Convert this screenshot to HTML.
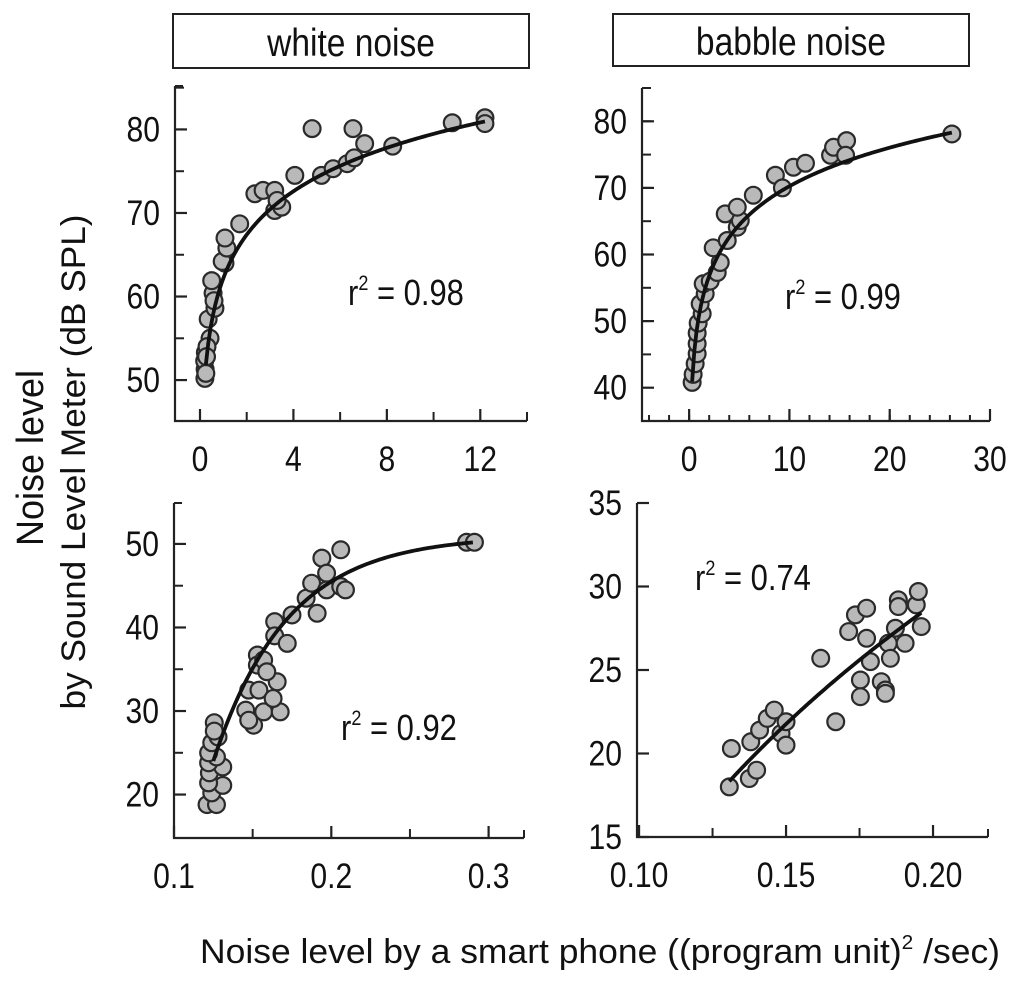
<!DOCTYPE html>
<html><head><meta charset="utf-8">
<style>
html,body{margin:0;padding:0;background:#fff;}
svg{display:block;font-family:"Liberation Sans",Arial,sans-serif;}
</style></head>
<body>
<svg id="chart" width="1024" height="983" viewBox="0 0 1024 983" xmlns="http://www.w3.org/2000/svg">
<rect x="0" y="0" width="1024" height="983" fill="#fff"/>
<g>
<rect x="173" y="14" width="356" height="54" fill="#fff" stroke="#222" stroke-width="2"/>
<text transform="translate(351,56) scale(0.86,1)" font-size="39" text-anchor="middle" fill="#111">white noise</text>
</g>
<g>
<rect x="613" y="14" width="356" height="52" fill="#fff" stroke="#222" stroke-width="2"/>
<text transform="translate(791,55) scale(0.86,1)" font-size="39" text-anchor="middle" fill="#111">babble noise</text>
</g>
<g fill="#111" font-size="34">
<text transform="translate(43,458) rotate(-90)" text-anchor="middle" font-size="38" textLength="176" lengthAdjust="spacingAndGlyphs">Noise level</text>
<text transform="translate(85,462) rotate(-90)" text-anchor="middle" textLength="495" lengthAdjust="spacingAndGlyphs">by Sound Level Meter (dB SPL)</text>
</g>
<text x="200" y="963" font-size="34" fill="#111" textLength="800" lengthAdjust="spacingAndGlyphs">Noise level by a smart phone ((program unit)<tspan dy="-14" font-size="20">2</tspan><tspan dy="14"> /sec)</tspan></text>
</svg>
<script>
// ---- data: white noise, high range ----
const wnHighX = [0.21,0.22,0.2,0.23,0.43,0.35,0.64,0.56,0.5,1.07,0.95,1.15,1.07,1.7,2.35,2.7,3.2,3.2,3.5,3.3,4.06,4.8,5.2,5.7,6.3,6.6,6.55,7.05,8.25,10.8,12.2,12.2,0.3,0.6,0.25,0.28];
const wnHighY = [50.2,51.3,52.3,53.3,55,57.3,58.6,60.4,61.9,64,64.2,65.8,67,68.7,72.3,72.7,72.7,70.3,70.7,71.5,74.5,80.1,74.5,75.3,75.9,76.6,80.1,78.3,78,80.8,81.4,80.7,54,59.5,50.8,52.8];
const wnHighFit = [62.2, 7.5];
const wnHighXTicks = [0,4,8,12];
const wnHighYTicks = [50,60,70,80];
// ---- data: babble noise, high range ----
const bnHighX = [0.3,0.4,0.6,0.8,0.8,0.8,0.9,1.3,1.1,1.6,1.4,2.1,2.8,3.1,2.4,3.8,4.8,5.1,3.6,4.8,6.4,8.6,9.3,10.4,11.6,14.1,14.4,15.7,15.6,26.2];
const bnHighY = [40.8,42,43.6,45.1,46.6,48.2,49.7,51.1,52.6,54.1,55.6,56,57.3,58.8,61,62.1,64.1,65.1,66.1,67.1,68.9,71.9,70,73.1,73.7,74.9,76.1,77.1,74.9,78.1];
const bnHighFit = [51.0, 8.36];
const bnHighXTicks = [0,10,20,30];
const bnHighYTicks = [40,50,60,70,80];
// ---- data: white noise, low range ----
const wnLowX = [0.121,0.127,0.124,0.131,0.122,0.1225,0.131,0.122,0.127,0.122,0.124,0.128,0.1256,0.1256,0.1456,0.1506,0.1475,0.1475,0.154,0.157,0.1675,0.163,0.153,0.153,0.157,0.1656,0.159,0.164,0.164,0.172,0.175,0.184,0.1875,0.194,0.197,0.191,0.197,0.206,0.206,0.209,0.286,0.291];
const wnLowY = [18.8,18.8,20.2,21.1,21.4,22.6,23.3,23.8,24.5,25,26.2,26.9,28.6,27.6,30.1,28.3,28.9,32.5,32.5,29.9,29.9,31.5,36.7,35.5,36.1,33.5,34.7,40.7,39,38.1,41.5,43.5,45.3,48.3,46.5,41.7,44.5,49.3,44.9,44.5,50.2,50.2];
const wnLowFit = [51, 30, 21.2];
const wnLowXTicks = [0.1,0.2,0.3];
const wnLowYTicks = [20,30,40,50];
// ---- data: babble noise, low range ----
const bnLowX = [0.1307,0.1314,0.1375,0.14,0.138,0.141,0.1436,0.146,0.1483,0.15,0.15,0.1618,0.1669,0.1713,0.1736,0.1774,0.1774,0.1753,0.1753,0.1787,0.1824,0.1838,0.1838,0.1848,0.1855,0.1872,0.1882,0.1882,0.1905,0.1943,0.195,0.196];
const bnLowY = [18.0,20.3,18.5,19.0,20.7,21.4,22.1,22.6,21.2,20.5,21.9,25.7,21.9,27.3,28.3,28.7,26.9,24.4,23.4,25.5,24.3,23.8,23.6,26.6,25.7,27.5,29.2,28.8,26.6,28.9,29.7,27.6];
const bnLowFit = [69.0, 24.9];
const bnLowXTicks = [0.10,0.15,0.20];
const bnLowYTicks = [15,20,25,30,35];

const NS = 'http://www.w3.org/2000/svg';
const svg = document.getElementById('chart');
function mk(tag, attrs, parent){
  const e = document.createElementNS(NS, tag);
  for (const k in attrs) e.setAttribute(k, attrs[k]);
  (parent||svg).appendChild(e);
  return e;
}
const SQ = 0.86;
function panel(cfg){
  const g = mk('g', {});
  
  
  const sx = v => cfg.px0 + (v - cfg.x0) / (cfg.x1 - cfg.x0) * (cfg.px1 - cfg.px0);
  const sy = v => cfg.py0 - (v - cfg.y0) / (cfg.y1 - cfg.y0) * (cfg.py0 - cfg.py1);
  const ax = mk('path', {d:`M${cfg.px0},${cfg.py1} L${cfg.px0},${cfg.py0} L${cfg.px1},${cfg.py0}`, fill:'none', stroke:'#222', 'stroke-width':2.2}, g);
  
  
  mk('line', {x1:cfg.px0, y1:cfg.py1, x2:cfg.px0+8, y2:cfg.py1, stroke:'#222','stroke-width':2}, g);
  mk('line', {x1:cfg.px1, y1:cfg.py0, x2:cfg.px1, y2:cfg.py0-8, stroke:'#222','stroke-width':2}, g);
  for (let v = cfg.yMinorStart; v <= cfg.y1 + 1e-9; v += cfg.yMinor){
    const y = sy(v);
    mk('line', {x1:cfg.px0, y1:y, x2:cfg.px0+9, y2:y, stroke:'#222','stroke-width':2}, g);
  }
  for (let v = cfg.xMinorStart; v <= cfg.x1 + 1e-9; v += cfg.xMinor){
    const x = sx(v);
    if (x <= cfg.px0+2) continue;
    mk('line', {x1:x, y1:cfg.py0, x2:x, y2:cfg.py0-(cfg.minorLen||9), stroke:'#222','stroke-width':2}, g);
  }
  cfg.yTicks.forEach(v => {
    const y = sy(v);
    mk('line', {x1:cfg.px0, y1:y, x2:cfg.px0+12, y2:y, stroke:'#222','stroke-width':2.2}, g);
    const t = mk('text', {transform:`translate(${cfg.px0-15},${y+12}) scale(${SQ},1)`, 'font-size':35, 'text-anchor':'end', fill:'#111'}, g);
    
    
    t.textContent = String(v);
  });
  cfg.xTicks.forEach(v => {
    const x = sx(v);
    mk('line', {x1:x, y1:cfg.py0, x2:x, y2:cfg.py0-12, stroke:'#222','stroke-width':2.2}, g);
    const t = mk('text', {transform:`translate(${x},${cfg.py0+50}) scale(${SQ},1)`, 'font-size':35, 'text-anchor':'middle', fill:'#111'}, g);
    
    
    t.textContent = cfg.xFmt(v);
  });
  cfg.xs.forEach((xv, i) => {
    const c = mk('circle', {cx:sx(xv), cy:sy(cfg.ys[i]), r:8.4, fill:'#b9b9b9', stroke:'#2a2a2a', 'stroke-width':2.2}, g);
    
    
  });
  let d = '';
  const N = 120;
  for (let k = 0; k <= N; k++){
    const xv = cfg.fx0 + (cfg.fx1 - cfg.fx0) * k / N;
    d += (k ? 'L' : 'M') + sx(xv).toFixed(2) + ',' + sy(cfg.fit(xv)).toFixed(2);
  }
  const fl = mk('path', {d:d, fill:'none', stroke:'#111', 'stroke-width':3.8}, g);
  
  
  const r = mk('text', {transform:`translate(${cfg.rx},${cfg.ry}) scale(${SQ},1)`, 'font-size':36, fill:'#111'}, g);
  
  
  r.innerHTML = 'r<tspan dy="-15" font-size="21">2</tspan><tspan dy="15"> = ' + cfg.r2 + '</tspan>';
}

panel({name:'white-noise-high-panel', xs:wnHighX, ys:wnHighY, xTicks:wnHighXTicks, yTicks:wnHighYTicks,
  x0:-1.07, x1:14.0, px0:175, px1:527, y0:45.1, y1:85.2, py0:421, py1:86,
  xFmt:v=>String(v), yMinor:5, yMinorStart:55, xMinor:4, xMinorStart:2,
  fit:x=>wnHighFit[0]+wnHighFit[1]*Math.log(x), fx0:0.25, fx1:12.2, rx:348, ry:305, r2:'0.98'});
panel({name:'babble-noise-high-panel', xs:bnHighX, ys:bnHighY, xTicks:bnHighXTicks, yTicks:bnHighYTicks,
  x0:-4.7, x1:30, px0:642, px1:990, y0:35, y1:85, py0:421, py1:88,
  xFmt:v=>String(v), yMinor:5, yMinorStart:45, xMinor:2, xMinorStart:-4, minorLen:6,
  fit:x=>bnHighFit[0]+bnHighFit[1]*Math.log(x), fx0:0.3, fx1:26.2, rx:785, ry:309, r2:'0.99'});
panel({name:'white-noise-low-panel', xs:wnLowX, ys:wnLowY, xTicks:wnLowXTicks, yTicks:wnLowYTicks,
  x0:0.1, x1:0.3225, px0:174, px1:524, y0:14.8, y1:54.9, py0:838, py1:503,
  xFmt:v=>v.toFixed(1), yMinor:10, yMinorStart:25, xMinor:0.1, xMinorStart:0.15,
  fit:x=>wnLowFit[0]-wnLowFit[1]*Math.exp(-wnLowFit[2]*(x-0.12)), fx0:0.125, fx1:0.29, rx:341, ry:740, r2:'0.92'});
panel({name:'babble-noise-low-panel', xs:bnLowX, ys:bnLowY, xTicks:bnLowXTicks, yTicks:bnLowYTicks,
  x0:0.0993, x1:0.2187, px0:637, px1:988, y0:15, y1:35, py0:837, py1:503,
  xFmt:v=>v.toFixed(2), yMinor:100, yMinorStart:100, xMinor:0.05, xMinorStart:0.125,
  fit:x=>bnLowFit[0]+bnLowFit[1]*Math.log(x), fx0:0.1307, fx1:0.196, rx:695, ry:590, r2:'0.74'});
</script>
</body></html>
